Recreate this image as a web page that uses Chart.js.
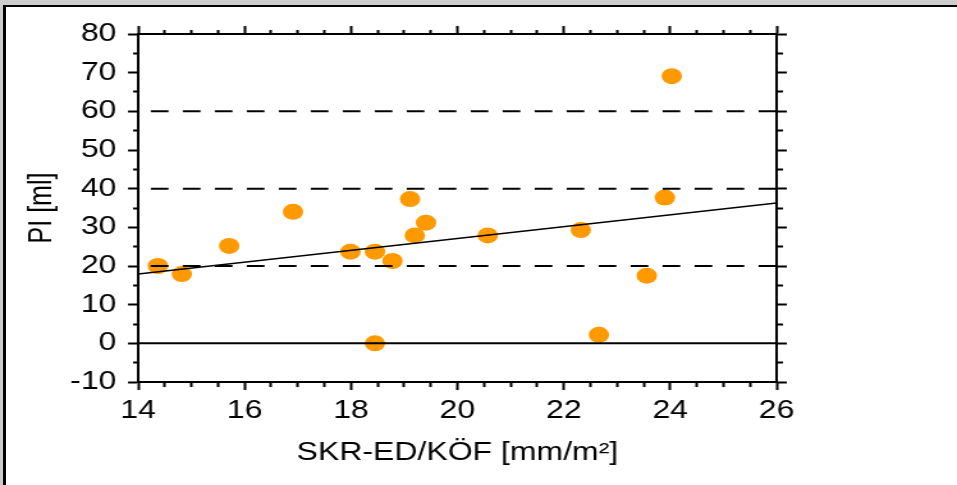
<!DOCTYPE html>
<html>
<head>
<meta charset="utf-8">
<script src="https://cdn.jsdelivr.net/npm/chart.js@4"></script>
<style>
  html, body { margin: 0; padding: 0; }
  body { width: 957px; height: 485px; background: #cccccc; position: relative; overflow: hidden; }
  #panel { position: absolute; left: 3px; top: 5px; width: 960px; height: 490px; background: #fff;
           border-top: 2px solid #000; border-left: 3px solid #000; }
  #wrap { position: absolute; left: 0; top: 0; width: 748px; height: 485px;
          transform: scale(1.27941, 1); transform-origin: 0 0; }
</style>
</head>
<body>
<div id="panel"></div>
<div id="wrap"><canvas id="chart" width="748" height="485"></canvas></div>
<script>
const skrEd = [14.37, 14.82, 15.71, 16.91, 17.99, 18.45, 18.45, 18.78, 19.11, 19.20, 19.41, 20.57, 22.32, 22.66, 23.56, 23.90, 24.03];
const piMl = [20.0, 17.9, 25.2, 34.0, 23.7, 23.7, 0.0, 21.3, 37.3, 27.9, 31.2, 27.9, 29.3, 2.2, 17.5, 37.7, 69.1];

// regression line end points
const fitX = [14, 26];
const fitY = [17.9, 36.3];

// reference lines
const zeroLevel = 0;
const dashedLevels = [20, 40, 60];

const xRange = [14, 26];
const yRange = [-10, 80];

const font = { family: 'Arial, "Liberation Sans", sans-serif', size: 25 };

function minorX(c) { return c.tick && Math.abs(c.tick.value % 2) > 1e-6; }
function minorY(c) { return c.tick && Math.abs(c.tick.value % 10) > 1e-6; }

// outward ticks: minor ones show only the half next to the axis
function tickGrid(isMinor, startsOuter) {
  return {
    drawOnChartArea: false,
    drawTicks: true,
    tickLength: 8,
    tickWidth: 2,
    tickColor: '#000',
    tickBorderDash: c => isMinor(c) ? [4, 4] : [],
    tickBorderDashOffset: c => (isMinor(c) && startsOuter) ? 4 : 0
  };
}

const border = { display: true, color: '#000', width: 2 };

const datasets = [{
  type: 'scatter',
  data: skrEd.map((x, i) => ({ x: x, y: piMl[i] })),
  backgroundColor: '#ff9900',
  borderWidth: 0,
  pointRadius: 8,
  pointHoverRadius: 8,
  order: 2
}, {
  type: 'line',
  data: fitX.map((x, i) => ({ x: x, y: fitY[i] })),
  borderColor: '#000',
  borderWidth: 1.5,
  pointRadius: 0,
  order: 1
}, {
  type: 'line',
  data: xRange.map(x => ({ x: x, y: zeroLevel })),
  borderColor: '#000',
  borderWidth: 2,
  pointRadius: 0,
  order: 1
}];

dashedLevels.forEach(level => {
  datasets.push({
    type: 'line',
    data: xRange.map(x => ({ x: x, y: level })),
    borderColor: '#000',
    borderWidth: 2,
    borderDash: [13.8, 11.2],
    borderDashOffset: 15.1,
    pointRadius: 0,
    order: 1
  });
});

new Chart(document.getElementById('chart'), {
  type: 'scatter',
  data: { datasets: datasets },
  options: {
    responsive: false,
    animation: false,
    events: [],
    layout: { padding: { left: 0, top: 34, right: 141, bottom: 0 } },
    plugins: { legend: { display: false }, tooltip: { enabled: false } },
    scales: {
      x: {
        type: 'linear', position: 'bottom',
        min: xRange[0], max: xRange[1],
        border: border,
        grid: tickGrid(minorX, false),
        ticks: {
          stepSize: 0.5, autoSkip: false, maxRotation: 0, padding: 6,
          color: '#000', font: font,
          callback: v => Math.abs(v % 2) < 1e-6 ? String(v) : ''
        },
        title: { display: true, text: 'SKR-ED/KÖF [mm/m²]', color: '#000', font: font, padding: { top: 0, bottom: 17 } },
        afterFit: s => { s.height = 103; }
      },
      x2: {
        type: 'linear', position: 'top',
        min: xRange[0], max: xRange[1],
        border: border,
        grid: tickGrid(minorX, true),
        ticks: { stepSize: 0.5, autoSkip: false, callback: () => '' },
        afterFit: s => { s.height = 0; }
      },
      y: {
        type: 'linear', position: 'left',
        min: yRange[0], max: yRange[1],
        border: border,
        grid: tickGrid(minorY, true),
        ticks: {
          stepSize: 5, autoSkip: false, padding: 9,
          color: '#000', font: font,
          callback: v => Math.abs(v % 10) < 1e-6 ? String(v) : ''
        },
        title: { display: true, text: 'PI [ml]', color: '#000', font: font, padding: { top: 18, bottom: 0 } },
        afterFit: s => { s.width = 108; }
      },
      y2: {
        type: 'linear', position: 'right',
        min: yRange[0], max: yRange[1],
        border: border,
        grid: tickGrid(minorY, false),
        ticks: { stepSize: 5, autoSkip: false, callback: () => '' },
        afterFit: s => { s.width = 0; }
      }
    }
  }
});
</script>
</body>
</html>
